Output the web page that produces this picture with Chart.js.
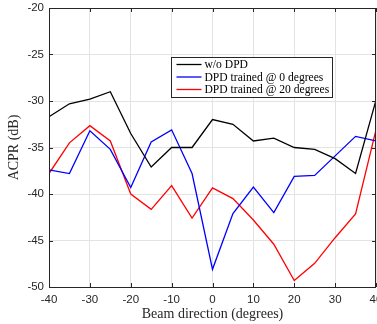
<!DOCTYPE html>
<html>
<head>
<meta charset="utf-8">
<script src="https://cdn.jsdelivr.net/npm/chart.js@4/dist/chart.umd.min.js"></script>
<style>
html,body{margin:0;padding:0;background:#fff;}
#wrap{width:377px;height:324px;position:relative;}
</style>
</head>
<body>
<div id="wrap"><canvas id="c" width="377" height="324"></canvas></div>
<script>
const beamDirections = [-40,-35,-30,-25,-20,-15,-10,-5,0,5,10,15,20,25,30,35,40];
const acprNoDpd   = [-31.7,-30.3,-29.8,-29.0,-33.5,-37.1,-35.0,-35.0,-32.0,-32.5,-34.3,-34.0,-35.0,-35.2,-36.2,-37.8,-29.9];
const acprDpd0    = [-37.4,-37.8,-33.2,-35.2,-39.3,-34.4,-33.1,-37.8,-48.1,-42.1,-39.25,-42.0,-38.1,-38.0,-35.9,-33.8,-34.3];
const acprDpd20   = [-37.8,-34.5,-32.65,-34.3,-40.0,-41.65,-39.1,-42.6,-39.35,-40.5,-42.8,-45.4,-49.3,-47.45,-44.7,-42.15,-33.1];
const seriesLabels = ['w/o DPD','DPD trained @ 0 degrees','DPD trained @ 20 degrees'];
const seriesColors = ['#000000','#0000ff','#ff0000'];
const xTicks = [-40,-30,-20,-10,0,10,20,30,40];
const yTicks = [-50,-45,-40,-35,-30,-25,-20];

const toPts = arr => arr.map((v,i)=>({x:beamDirections[i],y:v}));
const seriesValues = [acprNoDpd, acprDpd0, acprDpd20];

const frameColor = '#262626';

const framePlugin = {
  id:'frame',
  afterDatasetsDraw(chart){
    const {ctx, chartArea:a, scales:{x,y}} = chart;
    ctx.save();
    ctx.strokeStyle = frameColor;
    ctx.lineWidth = 1;
    const tl = 4;
    ctx.beginPath();
    xTicks.forEach(t=>{
      const px = Math.round(x.getPixelForValue(t))+0.5;
      ctx.moveTo(px,a.bottom); ctx.lineTo(px,a.bottom-tl);
      ctx.moveTo(px,a.top); ctx.lineTo(px,a.top+tl);
    });
    yTicks.forEach(t=>{
      const py = Math.round(y.getPixelForValue(t))+0.5;
      ctx.moveTo(a.left,py); ctx.lineTo(a.left+tl,py);
      ctx.moveTo(a.right,py); ctx.lineTo(a.right-tl,py);
    });
    ctx.stroke();
    ctx.strokeRect(Math.round(a.left)+0.5, Math.round(a.top)+0.5, Math.round(a.right-a.left)-1, Math.round(a.bottom-a.top));
    ctx.restore();
  },
  afterDraw(chart){
    const ctx = chart.ctx;
    ctx.save();
    const bx=171.5, by=57.5, bw=161, bh=40;
    ctx.fillStyle='#fff';
    ctx.fillRect(bx,by,bw,bh);
    ctx.strokeStyle=frameColor; ctx.lineWidth=1;
    ctx.strokeRect(bx,by,bw,bh);
    ctx.font = '11.6px "Liberation Serif", serif';
    ctx.textBaseline='middle';
    chart.data.datasets.forEach((ds,i)=>{
      const yy = by + 7 + i*12.5;
      ctx.strokeStyle = ds.borderColor; ctx.lineWidth=1.3;
      ctx.beginPath(); ctx.moveTo(bx+5,yy); ctx.lineTo(bx+30,yy); ctx.stroke();
      ctx.fillStyle='#000';
      ctx.fillText(ds.label, bx+33, yy+0.5);
    });
    ctx.restore();
  }
};

new Chart(document.getElementById('c'),{
  type:'line',
  data:{
    datasets: seriesValues.map((vals,i)=>({
      label: seriesLabels[i],
      data: toPts(vals),
      borderColor: seriesColors[i],
      backgroundColor: seriesColors[i],
      borderWidth:1.3,
      pointRadius:0,
      tension:0,
      fill:false
    }))
  },
  options:{
    responsive:false,
    animation:false,
    layout:{autoPadding:false, padding:{left:0,right:1,top:8,bottom:0}},
    plugins:{legend:{display:false}, tooltip:{enabled:false}},
    scales:{
      x:{
        type:'linear', min:-40, max:40,
        afterBuildTicks(s){ s.ticks = xTicks.map(v=>({value:v})); },
        afterFit(s){ s.height = 37; s.paddingLeft = 0; s.paddingRight = 0; },
        grid:{color:'#e3e3e3', drawTicks:false, lineWidth:1},
        border:{display:false},
        ticks:{color:'#262626', padding:6, font:{family:'"Liberation Sans", Arial, sans-serif', size:11.5}, maxRotation:0},
        title:{display:true, text:'Beam direction (degrees)', color:'#262626',
               font:{family:'"Liberation Serif", serif', size:14}, padding:{top:0,bottom:1}}
      },
      y:{
        type:'linear', min:-50, max:-20,
        afterBuildTicks(s){ s.ticks = yTicks.map(v=>({value:v})); },
        afterFit(s){ s.width = 49; s.paddingTop = 0; s.paddingBottom = 0; },
        grid:{color:'#e3e3e3', drawTicks:false, lineWidth:1},
        border:{display:false},
        ticks:{color:'#262626', padding:5, font:{family:'"Liberation Sans", Arial, sans-serif', size:11.5}},
        title:{display:true, text:'ACPR (dB)', color:'#262626',
               font:{family:'"Liberation Serif", serif', size:14}, padding:{top:6,bottom:0}}
      }
    }
  },
  plugins:[framePlugin]
});
</script>
</body>
</html>
